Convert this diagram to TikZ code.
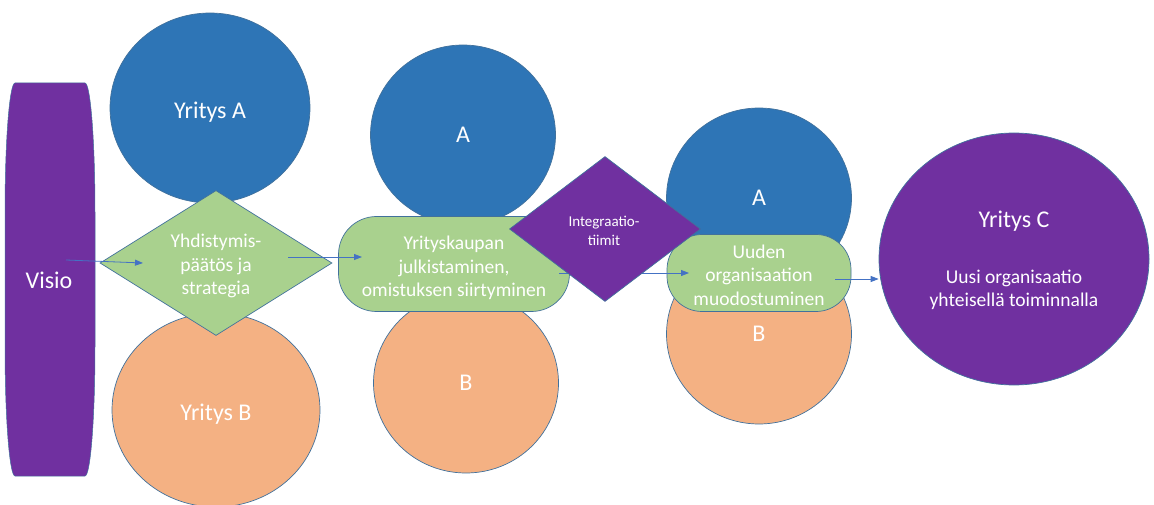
\documentclass[tikz,border=0pt]{standalone}
\usepackage{fontspec}
\setmainfont{Carlito}
\usetikzlibrary{shapes.geometric,arrows.meta}
\definecolor{cblue}{HTML}{2E75B6}
\definecolor{corange}{HTML}{F4B183}
\definecolor{cgreen}{HTML}{A9D18E}
\definecolor{cpurple}{HTML}{7030A0}
\definecolor{cedge}{HTML}{41719C}
\definecolor{carrow}{HTML}{4472C4}
\tikzset{
  circ/.style={ellipse, draw=cedge, line width=0.7pt, inner sep=0pt, text=white, text depth=0pt},
  bluec/.style={circ, fill=cblue},
  orangec/.style={circ, fill=corange},
  gdiam/.style={diamond, draw=cedge, line width=0.7pt, fill=cgreen, inner sep=0pt},
  pdiam/.style={diamond, draw=cedge, line width=0.7pt, fill=cpurple, inner sep=0pt},
  grect/.style={rectangle, rounded corners=38pt, draw=cedge, line width=0.7pt, fill=cgreen, inner sep=0pt},
  wtext/.style={text=white, align=center, inner sep=0pt},
  big/.style={font=\fontsize{24}{29}\selectfont},
  mid/.style={font=\fontsize{19.5}{23.5}\selectfont},
  conn/.style={draw=carrow, line width=0.8pt, -{Triangle[length=8pt,width=6pt]}}
}
\begin{document}
\begin{tikzpicture}[x=1pt,y=1pt]
\useasboundingbox (0,0) rectangle (1154,504);
% Visio
\fill[cpurple, draw=cedge, line width=0.5pt] (15,421) -- (85,421)
  arc[start angle=90, end angle=0, x radius=10pt, y radius=130pt] -- (95,158)
  arc[start angle=0, end angle=-90, x radius=10pt, y radius=130pt] -- (15,28)
  arc[start angle=270, end angle=180, x radius=10pt, y radius=130pt] -- (5,291)
  arc[start angle=180, end angle=90, x radius=10pt, y radius=130pt] -- cycle;
\node[wtext, big, text depth=0pt] (visio) at (49,224) {Visio};
% stage 1
\node[bluec, big, minimum width=200pt, minimum height=190pt] (ya) at (210,396) {};
\node[wtext, big, text depth=0pt] (yat) at (210,394) {Yritys A};
\node[orangec, big, minimum width=208pt, minimum height=194pt] (yb) at (216,94) {};
\node[wtext, big, text depth=0pt] (ybt) at (216,92) {Yritys B};
\node[gdiam, minimum width=232pt, minimum height=145pt] (d1) at (216,241) {};
\node[wtext, mid] (d1t) at (216,238) {Yhdistymis-\\päätös ja\\strategia};
\coordinate (a1s) at (66,244);
\coordinate (a1e) at (143,241);
\draw[conn] (a1s) -- (a1e);
% stage 2
\node[bluec, big, minimum width=185pt, minimum height=180pt] (a2) at (463,369) {A};
\node[orangec, big, minimum width=185pt, minimum height=180pt] (b2) at (466,121) {B};
\node[grect, minimum width=231pt, minimum height=95pt] (r1) at (454,240) {};
\node[wtext, mid] (r1t) at (454,236) {Yrityskaupan\\julkistaminen,\\omistuksen siirtyminen};
\coordinate (a2s) at (288,247);
\coordinate (a2e) at (362,247);
\draw[conn] (a2s) -- (a2e);
% stage 3
\node[bluec, big, minimum width=185pt, minimum height=180pt] (a3) at (759,306) {A};
\node[orangec, big, minimum width=185pt, minimum height=180pt] (b3) at (759,170) {B};
\node[grect, rounded corners=35pt, minimum width=184pt, minimum height=77pt] (r2) at (759,231) {};
\node[wtext, mid] (r2t) at (759,229) {Uuden\\organisaation\\muodostuminen};
\coordinate (a3s) at (559,231);
\coordinate (a3e) at (689,231);
\draw[conn] (a3s) -- (a3e);
\node[pdiam, minimum width=191pt, minimum height=145pt] (d2) at (605,275) {};
\node[wtext, font=\fontsize{15}{18.5}\selectfont] (d2t) at (604,273) {Integraatio-\\tiimit};
% result
\node[circ, fill=cpurple, minimum width=270pt, minimum height=252pt] (yc) at (1014,245) {};
\node[wtext, big, text depth=0pt] (yct) at (1014,285) {Yritys C};
\node[wtext, mid] (ycs) at (1014,214) {Uusi organisaatio\\yhteisellä toiminnalla};
\coordinate (a4s) at (835,225);
\draw[conn] (a4s) -- (yc.west |- a4s);
\end{tikzpicture}
\end{document}
